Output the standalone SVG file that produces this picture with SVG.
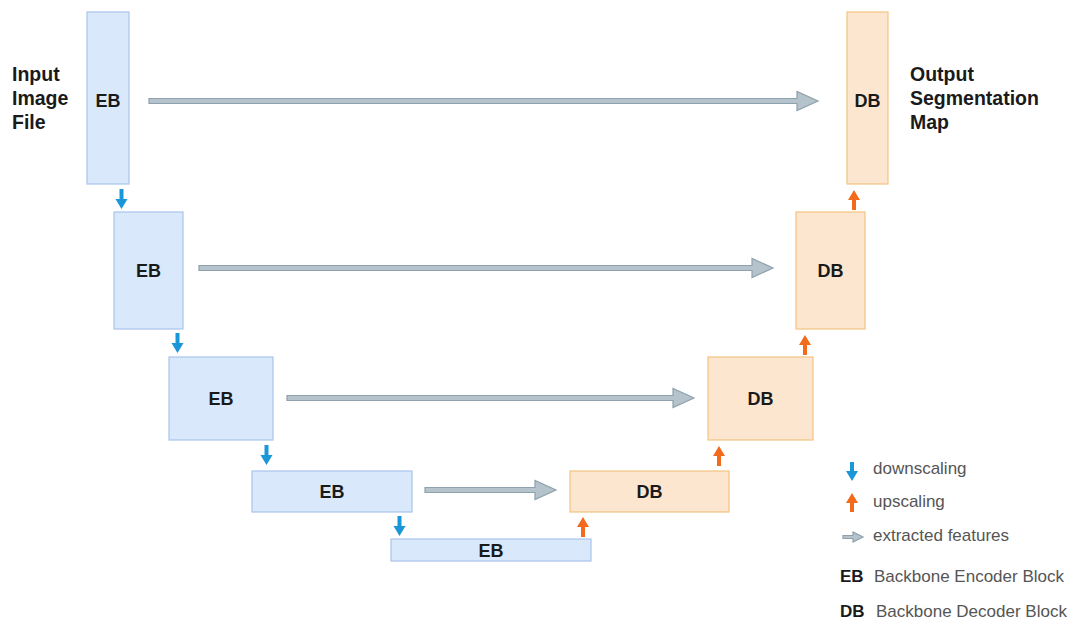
<svg xmlns="http://www.w3.org/2000/svg" width="1082" height="623" viewBox="0 0 1082 623">
<style>
.eb{fill:#dae8fc;stroke:#a9c4eb;stroke-width:1.2}
.db{fill:#fde6cf;stroke:#f2c47f;stroke-width:1.2}
.lbl{font-family:"Liberation Sans",Arial,sans-serif;font-weight:bold;font-size:18px;fill:#1a1a1a;text-anchor:middle}
.side{font-family:"Liberation Sans",Arial,sans-serif;font-weight:bold;font-size:19.5px;fill:#1a1a1a}
.leg{font-family:"Liberation Sans",Arial,sans-serif;font-size:17px;fill:#555}
.legb{font-family:"Liberation Sans",Arial,sans-serif;font-weight:bold;font-size:17px;fill:#1a1a1a}
.feat{fill:#b4c3cc;stroke:#8fa1ac;stroke-width:1.2}
.down{fill:#1a97d8}
.up{fill:#f26a1b}
</style>
<rect width="1082" height="623" fill="#ffffff"/>
<g id="connectors">
<path class="feat" d="M149,98.5 H797 V91.5 L818,101 L797,110.5 V103.5 H149 Z"/>
<path class="feat" d="M199,265.5 H752 V258.5 L773,268 L752,277.5 V270.5 H199 Z"/>
<path class="feat" d="M287,395.5 H673 V388.5 L694,398 L673,407.5 V400.5 H287 Z"/>
<path class="feat" d="M425,487.5 H535 V480.5 L556,490 L535,499.5 V492.5 H425 Z"/>
<path class="down" d="M119.5,189 V199 H115.5 L121.5,209 L127.5,199 H123.5 V189 Z"/>
<path class="down" d="M175.5,333 V343 H171.5 L177.5,353 L183.5,343 H179.5 V333 Z"/>
<path class="down" d="M264.5,445 V455 H260.5 L266.5,465 L272.5,455 H268.5 V445 Z"/>
<path class="down" d="M397.5,516 V526 H393.5 L399.5,536 L405.5,526 H401.5 V516 Z"/>
<path class="up" d="M581,537 V527 H577 L583,517 L589,527 H585 V537 Z"/>
<path class="up" d="M717,466 V456 H713 L719,446 L725,456 H721 V466 Z"/>
<path class="up" d="M803,355 V345 H799 L805,335 L811,345 H807 V355 Z"/>
<path class="up" d="M852,210 V200 H848 L854,190 L860,200 H856 V210 Z"/>
</g>
<g id="eb1"><rect class="eb" x="87" y="12" width="42" height="172"/><text class="lbl" x="108" y="107">EB</text></g>
<g id="eb2"><rect class="eb" x="114" y="212" width="69" height="117"/><text class="lbl" x="148.5" y="277">EB</text></g>
<g id="eb3"><rect class="eb" x="169" y="357" width="104" height="83"/><text class="lbl" x="221" y="405">EB</text></g>
<g id="eb4"><rect class="eb" x="252" y="471" width="160" height="41"/><text class="lbl" x="332" y="498">EB</text></g>
<g id="eb5"><rect class="eb" x="391" y="539" width="200" height="22"/><text class="lbl" x="491" y="557">EB</text></g>
<g id="db1"><rect class="db" x="847" y="12" width="41" height="172"/><text class="lbl" x="867.5" y="107">DB</text></g>
<g id="db2"><rect class="db" x="796" y="212" width="69" height="117"/><text class="lbl" x="830.5" y="277">DB</text></g>
<g id="db3"><rect class="db" x="708" y="357" width="105" height="83"/><text class="lbl" x="760.5" y="405">DB</text></g>
<g id="db4"><rect class="db" x="570" y="471" width="159" height="41"/><text class="lbl" x="649.5" y="498">DB</text></g>
<g id="input-label">
<text class="side" x="12" y="81">Input</text>
<text class="side" x="12" y="105">Image</text>
<text class="side" x="12" y="129">File</text>
</g>
<g id="output-label">
<text class="side" x="910" y="81">Output</text>
<text class="side" x="910" y="105">Segmentation</text>
<text class="side" x="910" y="129">Map</text>
</g>
<g id="legend">
<path class="down" d="M850,462 V471 H846 L852,481 L858,471 H854 V462 Z"/>
<text class="leg" x="873" y="474">downscaling</text>
<path class="up" d="M850,512 V503 H846 L852,493 L858,503 H854 V512 Z"/>
<text class="leg" x="873" y="507">upscaling</text>
<path class="feat" d="M843,535.5 H853 V532 L863,537 L853,542 V538.5 H843 Z"/>
<text class="leg" x="873" y="541">extracted features</text>
<text class="legb" x="840" y="582">EB</text>
<text class="leg" x="874" y="582">Backbone Encoder Block</text>
<text class="legb" x="840" y="617">DB</text>
<text class="leg" x="876" y="617">Backbone Decoder Block</text>
</g>
</svg>
